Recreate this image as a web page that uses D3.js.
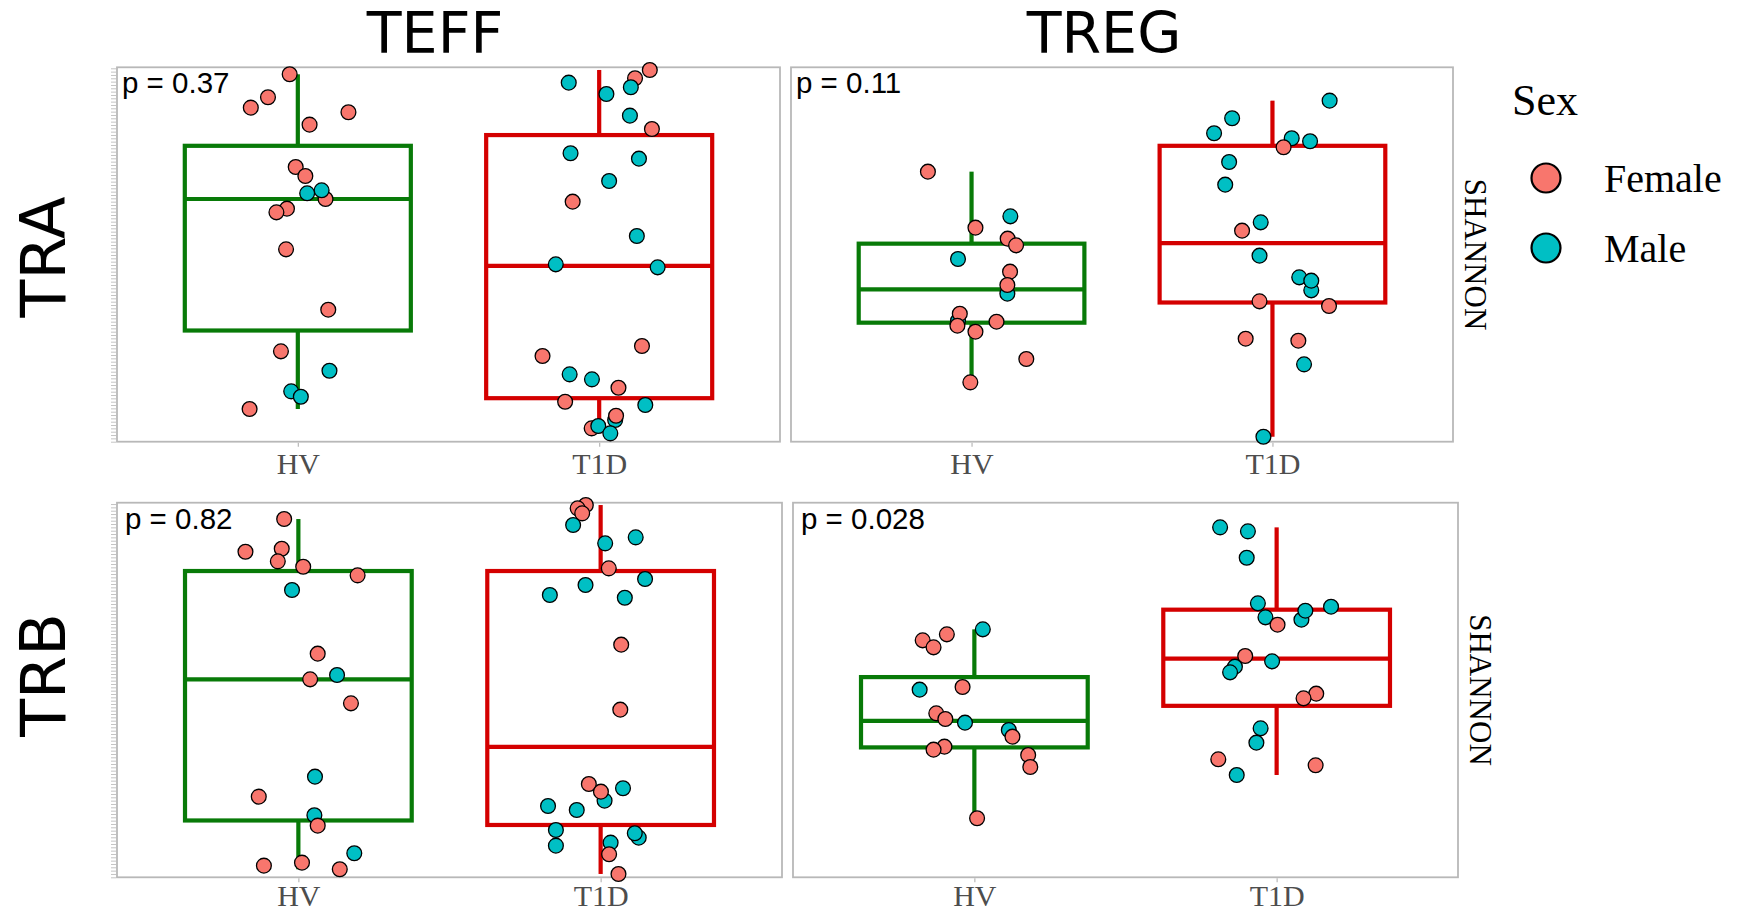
<!DOCTYPE html>
<html>
<head>
<meta charset="utf-8">
<script src="https://cdn.jsdelivr.net/npm/d3@7"></script>
<style>
  html, body { margin: 0; padding: 0; background: #fff; }
  svg { display: block; }
</style>
</head>
<body>
<svg id="chart" width="1737" height="913"></svg>
<script>
// ---- data -------------------------------------------------------------
const groups = ["HV", "T1D"];
const cellTypes = ["TEFF", "TREG"];
const chains = ["TRA", "TRB"];
const sexes = ["Female", "Male"];
const pLabels = ["p = 0.37", "p = 0.11", "p = 0.82", "p = 0.028"];
const stripLabel = "SHANNON";

// Shannon diversity (relative units), sex code (F/M) and horizontal jitter per sample
const TRA_TEFF_HV = [110.2, 103.3, 100.2, 98.8, 95.1, 82.4, 79.7, 74.5, 72.8, 75.4, 69.9, 68.8, 57.7, 39.6, 27.1, 21.3, 15.1, 13.5, 9.8];
const TRA_TEFF_HV_SEX = "FFFFFFFMFMFFFFFMMMF";
const TRA_TEFF_HV_JIT = [-0.027, -0.099, -0.156, 0.168, 0.039, -0.007, 0.025, 0.031, 0.092, 0.079, -0.036, -0.071, -0.039, 0.101, -0.056, 0.105, -0.022, 0.010, -0.160];

const TRA_TEFF_T1D = [111.5, 109.0, 107.7, 106.3, 104.3, 97.8, 93.8, 86.5, 84.9, 78.2, 72.0, 61.7, 53.2, 52.3, 28.7, 25.7, 20.2, 18.7, 16.2, 12.0, 11.0, 6.5, 7.8, 4.0, 4.7, 2.5];
const TRA_TEFF_T1D_SEX = "FFMMMMFMMMFMMMFFMMFFMMFFMM";
const TRA_TEFF_T1D_JIT = [0.168, 0.119, -0.101, 0.105, 0.024, 0.102, 0.175, -0.095, 0.132, 0.033, -0.088, 0.125, -0.144, 0.194, 0.142, -0.188, -0.098, -0.024, 0.064, -0.113, 0.153, 0.053, 0.056, -0.025, -0.003, 0.037];

const TRA_TREG_HV = [81.0, 67.6, 64.2, 60.9, 58.9, 54.8, 51.0, 44.4, 47.0, 36.3, 38.4, 34.8, 36.0, 33.0, 24.8, 17.8];
const TRA_TREG_HV_SEX = "FMFFFMFMFMFFFFFF";
const TRA_TREG_HV_JIT = [-0.145, 0.129, 0.013, 0.120, 0.148, -0.045, 0.128, 0.119, 0.119, -0.045, -0.039, -0.047, 0.083, 0.013, 0.182, -0.004];

const TRA_TREG_T1D = [102.3, 97.0, 92.5, 91.0, 90.1, 88.3, 83.9, 77.1, 65.8, 63.3, 55.8, 49.3, 45.4, 48.3, 42.1, 40.7, 30.9, 30.3, 23.2, 1.5];
const TRA_TREG_T1D_SEX = "MMMMMFMMMFMMMMFFFFMM";
const TRA_TREG_T1D_JIT = [0.190, -0.134, -0.194, 0.064, 0.125, 0.037, -0.144, -0.157, -0.039, -0.101, -0.043, 0.089, 0.129, 0.129, -0.043, 0.188, -0.089, 0.086, 0.105, -0.030];

const TRB_TEFF_HV = [107.5, 97.7, 98.6, 94.8, 93.2, 90.6, 86.2, 67.1, 60.7, 59.4, 52.2, 30.2, 24.2, 18.6, 15.5, 7.2, 4.4, 3.5, 2.4];
const TRB_TEFF_HV_SEX = "FFFFFFMFMFFMFMFMFFF";
const TRB_TEFF_HV_JIT = [-0.047, -0.175, -0.055, -0.068, 0.016, 0.196, -0.021, 0.064, 0.128, 0.039, 0.174, 0.055, -0.131, 0.053, 0.064, 0.185, 0.012, -0.114, 0.137];

const TRB_TEFF_T1D = [111.7, 110.7, 109.2, 105.7, 102.0, 100.2, 92.7, 89.5, 87.7, 84.7, 83.9, 69.8, 50.3, 28.0, 26.7, 23.0, 25.7, 21.4, 20.2, 14.2, 11.9, 13.2, 9.5, 10.4, 6.9, 1.0];
const TRB_TEFF_T1D_SEX = "FFFMMMFMMMMFFFMMFMMMMMMMFF";
const TRB_TEFF_T1D_JIT = [-0.049, -0.076, -0.061, -0.091, 0.116, 0.015, 0.027, 0.147, -0.050, -0.168, 0.080, 0.068, 0.065, -0.039, 0.074, 0.013, 0.001, -0.174, -0.079, -0.148, 0.126, 0.113, -0.148, 0.033, 0.028, 0.059];

const TRB_TREG_HV = [74.4, 72.9, 71.1, 69.0, 56.3, 57.1, 49.2, 47.5, 46.4, 44.2, 42.2, 39.2, 38.3, 36.7, 33.1, 17.7];
const TRB_TREG_HV_SEX = "MFFFMFFFMMFFFFFF";
const TRB_TREG_HV_JIT = [0.028, -0.091, -0.171, -0.135, -0.181, -0.039, -0.126, -0.096, -0.031, 0.114, 0.126, -0.099, -0.135, 0.178, 0.185, 0.009];

const TRB_TREG_T1D = [105.0, 103.8, 95.9, 82.2, 81.2, 77.3, 80.0, 78.0, 75.8, 66.4, 64.8, 63.2, 61.5, 55.1, 53.7, 44.7, 40.4, 35.4, 33.6, 30.7];
const TRB_TREG_T1D_SEX = "MMMMMMMMFFMMMFFMMFFM";
const TRB_TREG_T1D_JIT = [-0.187, -0.095, -0.099, -0.062, 0.180, 0.082, 0.095, -0.037, 0.003, -0.104, -0.015, -0.138, -0.154, 0.131, 0.089, -0.053, -0.067, -0.193, 0.129, -0.132];

// shared y range per row (free_y across rows)
const rowDomains = [[0, 112.3], [0, 112.4]];

// ---- layout & style ---------------------------------------------------
const rowBox = [{ y0: 67.3, y1: 441.7 }, { y0: 502.7, y1: 877.3 }];
const colBox = [
  [{ x0: 117, x1: 780 }, { x0: 791, x1: 1453 }],
  [{ x0: 117, x1: 782 }, { x0: 793, x1: 1458 }]
];
const boxColor = { HV: "#087a08", T1D: "#d40000" };
const sexColor = { F: "#F8766D", M: "#00BFC4", Female: "#F8766D", Male: "#00BFC4" };
const serif = "'Liberation Serif', 'Times New Roman', serif";
const sans = "'Liberation Sans', Arial, sans-serif";
const titleFont = "'DejaVu Sans', sans-serif";

const series = {
  TRA: {
    TEFF: { HV: [TRA_TEFF_HV, TRA_TEFF_HV_SEX, TRA_TEFF_HV_JIT], T1D: [TRA_TEFF_T1D, TRA_TEFF_T1D_SEX, TRA_TEFF_T1D_JIT] },
    TREG: { HV: [TRA_TREG_HV, TRA_TREG_HV_SEX, TRA_TREG_HV_JIT], T1D: [TRA_TREG_T1D, TRA_TREG_T1D_SEX, TRA_TREG_T1D_JIT] }
  },
  TRB: {
    TEFF: { HV: [TRB_TEFF_HV, TRB_TEFF_HV_SEX, TRB_TEFF_HV_JIT], T1D: [TRB_TEFF_T1D, TRB_TEFF_T1D_SEX, TRB_TEFF_T1D_JIT] },
    TREG: { HV: [TRB_TREG_HV, TRB_TREG_HV_SEX, TRB_TREG_HV_JIT], T1D: [TRB_TREG_T1D, TRB_TREG_T1D_SEX, TRB_TREG_T1D_JIT] }
  }
};

// Tukey box statistics (R type-7 quantiles, 1.5 IQR whiskers)
function boxStats(vals) {
  const s = vals.slice().sort(d3.ascending);
  const q1 = d3.quantileSorted(s, 0.25);
  const med = d3.quantileSorted(s, 0.5);
  const q3 = d3.quantileSorted(s, 0.75);
  const iqr = q3 - q1;
  const lo = d3.min(s.filter(v => v >= q1 - 1.5 * iqr));
  const hi = d3.max(s.filter(v => v <= q3 + 1.5 * iqr));
  return { q1, med, q3, lo, hi };
}

const svg = d3.select("#chart");
svg.append("rect").attr("width", 1737).attr("height", 913).attr("fill", "#fff");

chains.forEach((chain, r) => {
  const { y0, y1 } = rowBox[r];
  const y = d3.scaleLinear().domain(rowDomains[r]).range([y1, y0]);

  cellTypes.forEach((cell, c) => {
    const { x0, x1 } = colBox[r][c];
    const x = d3.scalePoint().domain(groups).range([x0, x1]).padding(0.6);
    const step = x.step();
    const g = svg.append("g");

    // panel border
    g.append("rect")
      .attr("x", x0).attr("y", y0)
      .attr("width", x1 - x0).attr("height", y1 - y0)
      .attr("fill", "none").attr("stroke", "#b8b8b8").attr("stroke-width", 1.8);

    // dense y ticks on the left column only
    if (c === 0) {
      const ya = g.append("g")
        .attr("transform", `translate(${x0 - 1},0)`)
        .call(d3.axisLeft(y)
          .tickValues(d3.range(rowDomains[r][0], rowDomains[r][1], 1))
          .tickSize(5).tickFormat(""));
      ya.select(".domain").remove();
      ya.selectAll(".tick line").attr("stroke", "#c4c4c4").attr("stroke-width", 1);
    }

    // x axis ticks and labels
    const xa = g.append("g")
      .attr("transform", `translate(0,${y1 + 1})`)
      .call(d3.axisBottom(x).tickSize(4).tickPadding(r === 0 ? 6 : 2));
    xa.select(".domain").remove();
    xa.selectAll(".tick line").attr("stroke", "#b8b8b8").attr("stroke-width", 1.2);
    xa.selectAll(".tick text")
      .attr("font-family", serif).attr("font-size", 30)
      .attr("fill", "#4d4d4d");

    // boxes
    groups.forEach(grp => {
      const st = boxStats(series[chain][cell][grp][0]);
      const cx = x(grp);
      const hw = step * 0.375;
      const col = boxColor[grp];
      const bg = g.append("g").attr("stroke", col).attr("stroke-width", 4.2).attr("fill", "none");
      bg.append("line").attr("x1", cx).attr("x2", cx).attr("y1", y(st.hi)).attr("y2", y(st.q3));
      bg.append("line").attr("x1", cx).attr("x2", cx).attr("y1", y(st.q1)).attr("y2", y(st.lo));
      bg.append("rect")
        .attr("x", cx - hw).attr("y", y(st.q3))
        .attr("width", hw * 2).attr("height", y(st.q1) - y(st.q3));
      bg.append("line").attr("x1", cx - hw).attr("x2", cx + hw)
        .attr("y1", y(st.med)).attr("y2", y(st.med));
    });

    // jittered points
    groups.forEach(grp => {
      const [vals, sx, jit] = series[chain][cell][grp];
      const pts = vals.map((v, i) => ({ v, s: sx[i], j: jit[i] }));
      g.append("g").selectAll("circle").data(pts).join("circle")
        .attr("cx", d => x(grp) + d.j * step)
        .attr("cy", d => y(d.v))
        .attr("r", 7.4)
        .attr("fill", d => sexColor[d.s])
        .attr("stroke", "#000").attr("stroke-width", 1.3);
    });

    // p-value
    g.append("text")
      .attr("x", x0 + (r === 0 ? 5 : 8)).attr("y", y0 + 26)
      .attr("font-family", sans).attr("font-size", 29.5)
      .attr("fill", "#000")
      .text(pLabels[r * 2 + c]);

    // right strip label
    if (c === 1) {
      const sy = (y0 + y1) / 2;
      svg.append("text")
        .attr("transform", `translate(${x1 + 12},${sy}) rotate(90)`)
        .attr("text-anchor", "middle")
        .attr("font-family", serif).attr("font-size", 31)
        .attr("fill", "#000")
        .text(stripLabel);
    }
  });
});

// column titles
const titleX = [435, 1104];
cellTypes.forEach((t, i) => {
  svg.append("text")
    .attr("x", titleX[i]).attr("y", 53)
    .attr("text-anchor", "middle")
    .attr("font-family", titleFont).attr("font-size", 57)
    .attr("fill", "#000")
    .text(t);
});

// row titles
const rowTitleY = [257, 675];
chains.forEach((t, i) => {
  svg.append("text")
    .attr("transform", `translate(65,${rowTitleY[i]}) rotate(-90)`)
    .attr("text-anchor", "middle")
    .attr("font-family", titleFont).attr("font-size", 62)
    .attr("fill", "#000")
    .text(t);
});

// legend
const lg = svg.append("g").attr("transform", "translate(1512,0)");
lg.append("text")
  .attr("x", 0).attr("y", 115)
  .attr("font-family", serif).attr("font-size", 44)
  .attr("fill", "#000")
  .text("Sex");
sexes.forEach((s, i) => {
  const cy = 178 + i * 70;
  lg.append("circle")
    .attr("cx", 34).attr("cy", cy).attr("r", 14.5)
    .attr("fill", sexColor[s]).attr("stroke", "#000").attr("stroke-width", 2.2);
  lg.append("text")
    .attr("x", 92).attr("y", cy + 14)
    .attr("font-family", serif).attr("font-size", 40)
    .attr("fill", "#000")
    .text(s);
});
</script>
</body>
</html>
